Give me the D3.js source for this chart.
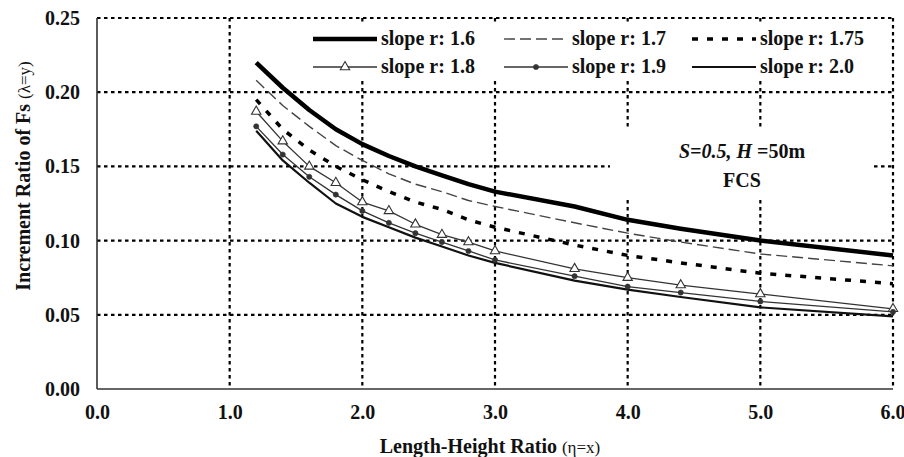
<!DOCTYPE html>
<html>
<head>
<meta charset="utf-8">
<script src="https://cdn.jsdelivr.net/npm/d3@7"></script>
<style>
  html, body { margin: 0; padding: 0; background: #fff; }
  svg { display: block; }
  text { font-family: "Liberation Serif", "Times New Roman", serif; }
</style>
</head>
<body>
<svg id="chart" width="904" height="457"></svg>
<script>
// ---- data ----
const xValues = [1.2, 1.4, 1.6, 1.8, 2.0, 2.2, 2.4, 2.6, 2.8, 3.0, 3.6, 4.0, 4.4, 5.0, 6.0];
const slope16  = [0.220, 0.203, 0.188, 0.175, 0.165, 0.157, 0.150, 0.144, 0.138, 0.133, 0.123, 0.114, 0.108, 0.100, 0.090];
const slope17  = [0.208, 0.191, 0.177, 0.164, 0.154, 0.145, 0.138, 0.133, 0.127, 0.123, 0.112, 0.105, 0.099, 0.091, 0.083];
const slope175 = [0.195, 0.175, 0.161, 0.150, 0.141, 0.133, 0.126, 0.121, 0.114, 0.109, 0.097, 0.090, 0.085, 0.078, 0.071];
const slope18  = [0.187, 0.167, 0.150, 0.139, 0.126, 0.120, 0.111, 0.104, 0.099, 0.093, 0.081, 0.075, 0.070, 0.064, 0.054];
const slope19  = [0.177, 0.158, 0.143, 0.131, 0.120, 0.112, 0.105, 0.099, 0.093, 0.087, 0.076, 0.069, 0.065, 0.059, 0.052];
const slope20  = [0.174, 0.154, 0.139, 0.125, 0.116, 0.109, 0.102, 0.096, 0.090, 0.085, 0.073, 0.067, 0.062, 0.055, 0.049];
const seriesNames = ["slope r: 1.6", "slope r: 1.7", "slope r: 1.75", "slope r: 1.8", "slope r: 1.9", "slope r: 2.0"];
const xTicks = [0, 1, 2, 3, 4, 5, 6];
const yTicks = [0, 0.05, 0.10, 0.15, 0.20, 0.25];

// ---- styles ----
const styles = [
  { color: "#000", width: 4.5, dash: null, marker: null },
  { color: "#444", width: 1.4, dash: "11,5", marker: null },
  { color: "#000", width: 3.5, dash: "6,9", marker: null },
  { color: "#333", width: 1.3, dash: null, marker: "tri" },
  { color: "#333", width: 1.3, dash: null, marker: "dot" },
  { color: "#111", width: 2.2, dash: null, marker: null }
];
const seriesData = [slope16, slope17, slope175, slope18, slope19, slope20];

const svg = d3.select("#chart");
const M = { left: 97, right: 893, top: 18, bottom: 389 };
const x = d3.scaleLinear().domain([0, 6]).range([M.left, M.right]);
const y = d3.scaleLinear().domain([0, 0.25]).range([M.bottom, M.top]);
const FS = 20;

// gridlines
const grid = svg.append("g");
const gridDash = "3.5,3.5";
grid.selectAll("line.h").data(yTicks.filter(d => d > 0)).enter().append("line")
  .attr("x1", M.left).attr("x2", M.right)
  .attr("y1", d => y(d)).attr("y2", d => y(d))
  .attr("stroke", "#000").attr("stroke-width", 2.2).attr("stroke-dasharray", gridDash);
grid.selectAll("line.v").data(xTicks.filter(d => d > 0)).enter().append("line")
  .attr("x1", d => x(d)).attr("x2", d => x(d))
  .attr("y1", M.top).attr("y2", M.bottom)
  .attr("stroke", "#000").attr("stroke-width", 2.2).attr("stroke-dasharray", gridDash);

// white boxes (legend & annotation) covering gridlines
svg.append("rect").attr("x", 300).attr("y", 23).attr("width", 576).attr("height", 58).attr("fill", "#fff");
svg.append("rect").attr("x", 610).attr("y", 130).attr("width", 263).attr("height", 70).attr("fill", "#fff");

// axes lines
svg.append("line").attr("x1", M.left).attr("x2", M.left).attr("y1", M.top).attr("y2", M.bottom)
  .attr("stroke", "#333").attr("stroke-width", 1.6);
svg.append("line").attr("x1", M.left).attr("x2", M.right).attr("y1", M.bottom).attr("y2", M.bottom)
  .attr("stroke", "#333").attr("stroke-width", 1.6);

// axis tick labels via d3 axes
const xAxis = d3.axisBottom(x).tickValues(xTicks).tickFormat(d3.format(".1f")).tickSize(0).tickPadding(16);
const gx = svg.append("g").attr("transform", `translate(0,${M.bottom})`).call(xAxis);
gx.select(".domain").remove();
gx.selectAll("text").attr("font-family", "Liberation Serif").attr("font-weight", "bold").attr("font-size", FS).attr("fill", "#111");
// keep the last label inside the picture
gx.selectAll("text").filter(d => d === 6).attr("text-anchor", "end").attr("dx", "12");

const yAxis = d3.axisLeft(y).tickValues(yTicks).tickFormat(d3.format(".2f")).tickSize(0).tickPadding(17);
const gy = svg.append("g").attr("transform", `translate(${M.left},0)`).call(yAxis);
gy.select(".domain").remove();
gy.selectAll("text").attr("font-family", "Liberation Serif").attr("font-weight", "bold").attr("font-size", FS).attr("fill", "#111");

// axis titles
const xt = svg.append("text").attr("x", 490).attr("y", 453).attr("text-anchor", "middle")
  .attr("font-weight", "bold").attr("font-size", FS).attr("fill", "#111");
xt.append("tspan").text("Length-Height Ratio ");
xt.append("tspan").attr("font-weight", "normal").attr("font-size", 17).text("(η=x)");

const yt = svg.append("text").attr("transform", "translate(30,176) rotate(-90)").attr("text-anchor", "middle")
  .attr("font-weight", "bold").attr("font-size", FS).attr("fill", "#111");
yt.append("tspan").text("Increment Ratio of Fs ");
yt.append("tspan").attr("font-weight", "normal").attr("font-size", 17).text("(λ=y)");

// series lines
const line = d3.line().x((d, i) => x(xValues[i])).y(d => y(d));
const plot = svg.append("g");
seriesData.forEach((vals, k) => {
  const s = styles[k];
  plot.append("path").datum(vals).attr("d", line)
    .attr("fill", "none").attr("stroke", s.color).attr("stroke-width", s.width)
    .attr("stroke-dasharray", s.dash).attr("stroke-linejoin", "round");
});

function drawMarker(g, type, cx, cy) {
  if (type === "tri") {
    g.append("path").attr("d", d3.symbol().type(d3.symbolTriangle).size(38)())
      .attr("transform", `translate(${cx},${cy})`)
      .attr("fill", "#fff").attr("stroke", "#333").attr("stroke-width", 1.1);
  } else if (type === "dot") {
    g.append("circle").attr("cx", cx).attr("cy", cy).attr("r", 2.6)
      .attr("fill", "#333").attr("stroke", "#333").attr("stroke-width", 0.6);
  }
}
seriesData.forEach((vals, k) => {
  const s = styles[k];
  if (!s.marker) return;
  vals.forEach((v, i) => drawMarker(plot, s.marker, x(xValues[i]), y(v)));
});

// legend
const legend = svg.append("g");
const legendCols = [313, 504, 692];
const legendRows = [39, 67];
seriesNames.forEach((name, k) => {
  const s = styles[k];
  const lx = legendCols[k % 3], ly = legendRows[Math.floor(k / 3)];
  legend.append("line").attr("x1", lx).attr("x2", lx + 64).attr("y1", ly).attr("y2", ly)
    .attr("stroke", s.color).attr("stroke-width", s.width).attr("stroke-dasharray", s.dash);
  if (s.marker) drawMarker(legend, s.marker, lx + 32, ly);
  legend.append("text").attr("x", lx + 68).attr("y", ly + 6)
    .attr("font-weight", "bold").attr("font-size", FS).attr("fill", "#111").text(name);
});

// annotation
const ann = svg.append("text").attr("x", 742).attr("y", 158).attr("text-anchor", "middle")
  .attr("font-weight", "bold").attr("font-size", FS).attr("fill", "#111");
ann.append("tspan").attr("font-style", "italic").text("S=0.5, H ");
ann.append("tspan").text("=50m");
svg.append("text").attr("x", 742).attr("y", 187).attr("text-anchor", "middle")
  .attr("font-weight", "bold").attr("font-size", FS).attr("fill", "#111").text("FCS");
</script>
</body>
</html>
